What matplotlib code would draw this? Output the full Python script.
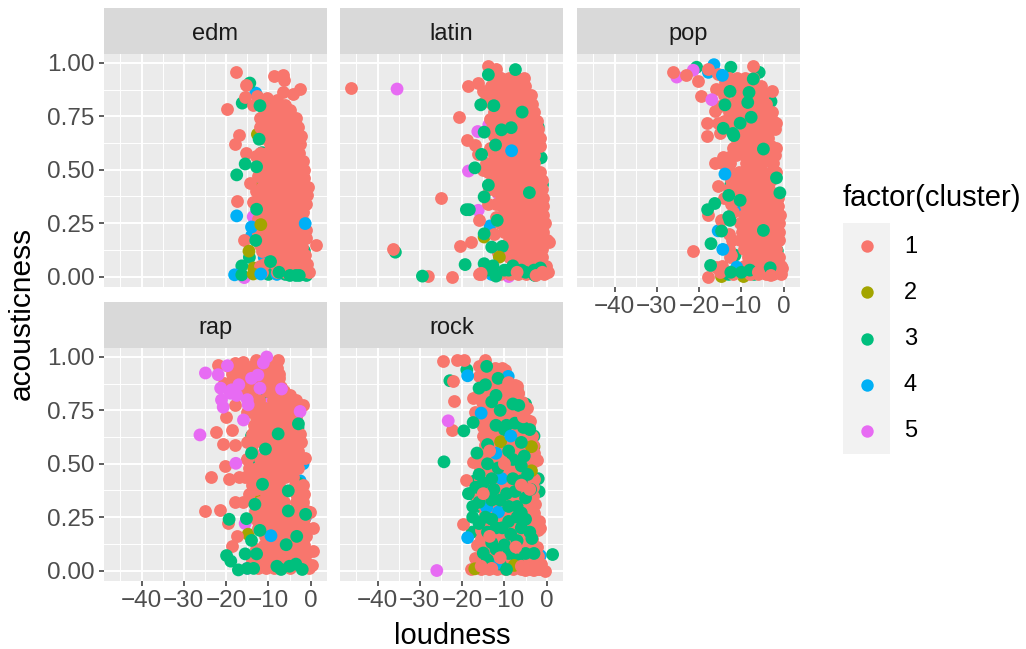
import matplotlib
matplotlib.use("Agg")
import matplotlib.pyplot as plt

plt.rcParams['font.family'] = ['Liberation Sans', 'DejaVu Sans']

colors = {1: "#F8766D", 2: "#A3A500", 3: "#00BF7D", 4: "#00B0F6", 5: "#E76BF3"}
genres = ["edm", "latin", "pop", "rap", "rock"]
x_ticks = [-40, -30, -20, -10, 0]
y_ticks = [0, 0.25, 0.5, 0.75, 1]
y_labels = ["0.00", "0.25", "0.50", "0.75", "1.00"]
clusters = [1, 2, 3, 4, 5]

# points are (loudness, acousticness, cluster)
edm_under = [(-13, .859, 4), (-14.4, .906, 3), (-16.2, .812, 3), (-12.6, .666, 2), (-8.5, .66, 4), (-10, .72, 3),
             (-12.8, .42, 2), (-13.6, .28, 5), (-14, .19, 4), (-15.7, -.005, 5), (-14.5, .09, 3), (-11, .09, 4),
             (-9, .05, 3), (-7, .08, 3), (-1.5, .12, 3), (-2.5, .36, 3), (-9, .46, 3), (-11.5, .46, 4), (-11.5, .58, 3),
             (-11, .79, 5), (-13.5, .04, 2), (-10, .01, 3), (-8, .01, 4), (-6, .01, 3), (-1, .005, 3), (-3, .01, 3),
             (-12, .3, 3), (-6.2, .57, 5)]
edm_salmon = [(-17.6, .958), (-8.6, .937), (-6.6, .945), (-6.2, .92), (-15.2, .898), (-2.5, .88), (-4.3, .854), (-6.6, .862),
              (-15.5, .839), (-12.8, .843), (-19.7, .784), (-13.6, .804), (-10.4, .835), (-8, .828), (-6.1, .804), (-9, .79),
              (-17, .665), (-17.9, .62), (-15.2, .58), (-13, .565), (-14.4, .439), (-17.4, .353), (-13.7, .348),
              (-15.8, .169), (1.2, .15), (-12, .15), (-12, .05), (-11.5, .65), (-12, .58), (-12.5, .47), (-13, .4), (-12.5, .33),
              (-12.5, .27), (-12.5, .2), (-11.5, .12), (-11, .06), (-12, .74), (-12, .7)]
# solid core of each blob, row by row: (acousticness, [loudness, ...])
edm_fill = [(.78, [-11, -9.2, -7.1, -5]), (.74, [-10.8, -8.8, -6.9, -5, -3.4]), (.70, [-10.4, -8.5, -6.6, -4.7, -2.9]),
            (.66, [-9.8, -7.9, -6, -4.2, -2.4]), (.62, [-9.6, -7.6, -5.8, -3.9, -2.5]), (.58, [-10.3, -8.4, -6.5, -4.6, -2.7]),
            (.54, [-11, -9, -7.1, -5.2, -3.3, -1.9]), (.50, [-11.4, -9.5, -7.6, -5.7, -3.8, -1.6]), (.46, [-10.8, -8.9, -7, -5.1, -3.2, -1.5]),
            (.42, [-11.5, -9.6, -7.7, -5.8, -3.9, -2, -.7]), (.38, [-11.9, -10, -8.1, -6.2, -4.3, -2.4, -.9]), (.34, [-11.8, -9.9, -8, -6.1, -4.2, -2.3, -1]),
            (.30, [-11.3, -9.4, -7.5, -5.6, -3.7, -1.8]), (.26, [-11.4, -9.5, -7.6, -5.7, -3.8, -1.9]), (.22, [-10.9, -9, -7.1, -5.2, -3.3, -1.2]),
            (.18, [-10.8, -8.9, -7, -5.1, -3.2, -1.1]), (.14, [-9.7, -7.8, -5.9, -4, -2.1]), (.10, [-8.8, -6.6, -4.9, -3, -1.4]),
            (.06, [-8.5, -5.8, -4.2, -2.4, -.8]), (.02, [-11.5, -8, -6, -4, -2, -.3])]
edm_top = [(-12, .80, 3), (-12.2, .643, 3), (-15.5, .527, 3), (-17.5, .476, 3), (-12.8, .514, 3), (-12.8, .315, 3), (-17.5, .284, 4),
           (-14, .232, 4), (-1.3, .248, 4), (-13, .169, 3), (-14.6, .119, 2), (-11.8, .243, 2), (-16.3, .05, 3), (-18, .008, 4),
           (-16.3, .008, 3), (-13.6, .012, 2), (-11.8, .012, 4), (-4.9, .005, 3), (-3.5, .005, 3), (-2.7, .005, 3), (-7.5, .02, 3), (-9.5, .07, 3)]

latin_under = [(-35.8, .114, 3), (-28, 0, 1), (-16.2, .31, 5), (-18.5, .494, 5), (-16.3, .679, 5), (-13.7, .71, 5), (-11.4, .934, 5),
               (-11.4, .386, 5), (-14.8, .185, 2), (-13.4, .237, 4), (-11.7, .549, 2), (-1.3, .556, 3), (-1, .43, 3), (-1, .28, 3),
               (-13, .01, 4), (-9, 0, 5), (-2, .7, 3), (-1.5, .32, 5), (-6, .72, 3), (-8, .6, 3), (-7, .17, 4), (-3.5, .2, 3)]
latin_salmon = [(-46.4, .881), (-36.4, .128), (-20.8, .749), (-24.9, .368), (-22.5, 0), (-20.6, .144), (-17.8, .161), (-15.9, .263),
                (-18.7, .893), (-16.2, .906), (-13.8, .984), (-18.9, .64), (-17, .616), (-16.2, .574), (-13.3, .738), (-13.7, .408),
                (-12, .97), (-14, .34), (-16, .01), (.5, .16), (.3, .02), (-15, .5), (-13, .7), (-12.5, .66), (-14.5, .82), (-15, .87),
                (-13.5, .6), (-12.5, .58), (-13, .45), (-12, .4), (-12, .34), (-12, .28), (-12.5, .2), (-11.5, .11), (-12, .02)]
latin_fill = [(.93, [-12.8, -10.9, -9, -7.1, -5.4]), (.89, [-13.2, -11.3, -9.4, -7.5, -5.1]), (.85, [-13.4, -11.5, -9.6, -7.7, -5.8, -3.6]),
              (.81, [-13, -11.1, -9.2, -7.3, -5.4, -3.5]), (.77, [-12.4, -10.5, -8.6, -6.7, -4.8, -2.9]), (.73, [-11.6, -9.7, -7.8, -5.9, -4, -2.4]),
              (.69, [-11.5, -9.6, -7.7, -5.8, -3.9, -2]), (.65, [-11, -9.1, -7.2, -5.3, -3.4, -1.5]), (.61, [-11.9, -10, -8.1, -6.2, -4.3, -2.4, -1.5]),
              (.57, [-12.4, -10.5, -8.6, -6.7, -4.8, -2.9]), (.53, [-14.3, -12.4, -10.5, -8.6, -6.7, -4.8, -2.9]), (.49, [-14, -12.1, -10.2, -8.3, -6.4, -4.5, -2.6, -1.5]),
              (.45, [-12, -10.1, -8.2, -6.3, -4.4, -2.5, -1]), (.41, [-10, -8.1, -6.2, -4.3, -2.4, -1]), (.37, [-10.5, -8.6, -6.7, -4.8, -2.9, -.9]),
              (.33, [-10.6, -8.7, -6.8, -4.9, -3, -.9]), (.29, [-10.4, -8.5, -6.6, -4.7, -2.8, -.9]), (.25, [-11, -9.1, -7.2, -5.3, -3.4, -1.5, -.5]),
              (.21, [-10, -8.1, -6.2, -4.3, -2.4, -.9]), (.17, [-9, -7.1, -5.2, -3.3, -1.4, 0]), (.13, [-8.8, -6.9, -5, -3.1, -1.2]),
              (.09, [-9, -7.1, -5.2, -3.3, -1]), (.05, [-14.4, -7.5, -5.6, -3.7, -1.8, -.2]), (.01, [-15.5, -11, -8.6, -6.7, -4.8, -2.9, -.7])]
latin_top = [(-35.4, .878, 5), (-29.4, .002, 3), (-19.3, .056, 3), (-18.3, .313, 3), (-19, .313, 3), (-17, .509, 3), (-13.8, .945, 3),
             (-7.4, .969, 3), (-15.4, .572, 3), (-14.8, .676, 3), (-15.6, .804, 3), (-10.7, .687, 3), (-8.4, .697, 3), (-12.1, .616, 3),
             (-8.3, .589, 4), (-4.1, .393, 3), (-13.8, .428, 3), (-14.8, .373, 3), (-11.7, .263, 3), (-13, .138, 3), (-10.5, .141, 3),
             (-14.8, .2, 3), (-11.2, .091, 2), (-14.8, .06, 3), (-12, .002, 3), (-2.8, .005, 3), (-6, .03, 3), (-8, .05, 3),
             (-12.7, .05, 3), (-9, .03, 3), (-12.5, .8, 3), (-5.8, .77, 3), (-10, .03, 3), (-14, .03, 3), (-3, .03, 3), (-5, .02, 3),
             (-1.5, .04, 3), (-2.5, .005, 1), (-1, .02, 1), (-15.5, .015, 1), (-7, .02, 1)]

pop_under = [(-25.3, .934, 5), (-20.6, .98, 3), (-21.4, .966, 5), (-17.8, .956, 4), (-16.5, .992, 4), (-12.5, .98, 3), (-5.8, .956, 3),
             (-14.7, 0, 2), (-9.5, 0, 2), (-11, .02, 3), (-7, .01, 3), (-13, .01, 3), (-15.5, .214, 4), (-5, .66, 3), (-1.5, .12, 3),
             (-11, .32, 4), (-3, .82, 3), (-5, .62, 3), (-10.5, .59, 3), (-12.5, .43, 3), (-11.5, .1, 3)]
pop_salmon = [(-26.1, .958), (-23, .945), (-20.2, .914), (-19.6, .846), (-18, .97), (-15.5, .95), (-14, .91), (-7.2, .984),
              (-16, .88), (-2.8, .867), (-16.3, .776), (-3.2, .765), (-18.2, .721), (-15.5, .72), (-18.1, .66), (-15, .67),
              (-1.7, .718), (-1.7, .603), (-16.3, .533), (-14.3, .561), (-15.5, .425), (-17.8, .287), (-14.9, .266),
              (-21.5, .119), (-16.1, .044), (-17.9, 0), (-.5, .04), (-12, .6), (-13, .56), (-13, .5), (-12.5, .34), (-12, .3),
              (-13, .2), (-12.5, .1), (-15, .02), (-11.5, .74), (-15, .8)]
pop_fill = [(.93, [-13, -11, -9.1, -7.2]), (.89, [-13.4, -11.1, -9.2, -7, -5.4]), (.85, [-14.2, -11, -9.1, -6.7, -4.9]), (.81, [-12.4, -10.3, -7.9, -5.9, -4.2]),
            (.77, [-12.9, -11, -9.2, -6.2, -4.6, -2.8]), (.73, [-14.1, -12.2, -8.5, -6.6, -4.6, -2.5]), (.69, [-13, -9.3, -7.4, -5.5, -3.6, -2]), (.65, [-11.2, -9.3, -7.4, -5.5, -3.6]),
            (.61, [-10.6, -8.7, -6.8, -4.9, -3]), (.57, [-11.3, -9.4, -7.5, -5.6, -3.7, -2]), (.53, [-14.6, -12.6, -8.9, -7, -5.1, -2.6]), (.49, [-10.6, -8.7, -6.8, -4.9, -3, -1.9]),
            (.45, [-12.4, -10.6, -8.7, -6.8, -4.9, -3]), (.41, [-13, -11, -9.1, -7.2, -5.3, -3.4]), (.37, [-14.1, -12.2, -8.4, -6.5, -4.6, -2.7, -1.4]),
            (.33, [-8.8, -6.9, -5, -3.1, -1.4]), (.29, [-9.4, -7.5, -5.6, -3.7, -1.8, -.8]), (.25, [-10.4, -8.5, -6.6, -4.7, -2.8, -1]), (.21, [-9.9, -8, -6.1, -4.2, -2.3, -1]),
            (.17, [-12.3, -10.4, -8.5, -6.6, -4.7, -2.8, -1.2]), (.13, [-13, -9.4, -7.5, -5.6, -3.7, -1.8]), (.09, [-12.6, -8.5, -6.6, -4.7, -2.8, -1.2]),
            (.05, [-14.5, -9.5, -7.6, -5.7, -3.8, -1.9, -.6]), (.01, [-12, -8, -6, -4.2, -2.6, -.7])]
pop_top = [(-17, .828, 5), (-14.5, .942, 4), (-7.2, .925, 3), (-12.7, .867, 3), (-8.2, .862, 3), (-13.9, .804, 3), (-8.5, .815, 3), (-14.3, .694, 3),
           (-10.3, .718, 3), (-12, .67, 3), (-7.7, .746, 3), (-4.8, .597, 3), (-13.9, .48, 4), (-.9, .392, 3), (-1.7, .462, 3), (-10.3, .357, 3),
           (-18, .313, 3), (-16.3, .342, 3), (-12.7, .263, 3), (-14.7, .213, 3), (-4.8, .216, 3), (-17.2, .154, 3), (-14.4, .127, 4), (-17.3, .052, 3),
           (-3.2, .041, 3), (-11.1, .044, 4), (-10, .02, 3), (-13, .38, 3), (-11.8, .66, 3), (-13, .28, 3), (-12.5, .02, 3), (-8, .03, 3), (-3, .005, 1), (-6, .02, 1)]

rap_under = [(-6.9, .839, 3), (-11, .8, 3), (-14, .63, 3), (-11, .54, 5), (-14, .5, 3), (-1.8, .5, 4), (-2.5, .42, 4), (-3, .41, 3),
             (-1.2, .25, 4), (-15.5, .22, 5), (-13.2, .345, 2), (-14.8, .17, 2), (-2, .16, 5), (-15, .01, 5), (-3, .62, 4), (-3, .67, 3), (-10, .78, 5)]
rap_salmon = [(-21.9, .964), (-18, .97), (-16, .975), (-13, .985), (-7.7, .985), (-8, .95), (-17, .91), (-20.5, .88), (-15, .94), (-11, .94), (-7.5, .9),
              (-16, .85), (-13.5, .85), (-9.5, .87), (-7, .86), (-17.9, .776), (-5, .82), (-3.5, .8), (-1.7, .776), (-20.1, .721),
              (-18.5, .66), (-22.3, .65), (-20.7, .592), (-18, .59), (-1.3, .525), (-20.3, .489), (-23.6, .439), (-19.3, .428), (-17, .44),
              (-18, .32), (-16, .32), (-25, .279), (-21.5, .285), (-.2, .274), (-19.5, .223), (.6, .199), (-17.5, .16), (-18.5, .113), (.6, .091), (.2, .024), (-15.5, .44),
              (-15, .6), (-15, .52), (-14, .44), (-13, .38), (-12.5, .2), (-13, .1), (-14, .05), (-18.5, .95), (-15, .88), (-13, .78), (-15, .74)]
rap_fill = [(.96, [-19.5, -17.4, -15.5, -13.6, -11.7, -9.6]), (.92, [-18.6, -16.2, -14.4, -10.8, -8.6, -7.5]), (.88, [-18.9, -15.6, -13, -11, -9.2]), (.84, [-15.2, -10.4, -8.6, -6.4]),
            (.80, [-13.8, -12.2, -9, -6.9, -4.6]), (.76, [-12.6, -10.7, -8.8, -6.9, -5, -3.4]), (.72, [-12.9, -11, -9.1, -7.2, -5.3, -3.4]), (.68, [-13.5, -11.6, -9.7, -7.8, -5.9, -4]),
            (.64, [-13.9, -12, -10.1, -8.2, -6.3, -4.4, -2.5]), (.60, [-13.4, -11.5, -9.6, -7.7, -5.8, -3.9, -2.3]), (.56, [-13.9, -8.7, -6.8, -4.9, -3]), (.52, [-15, -12, -10.1, -8.2, -6.3, -4.4, -2.5]),
            (.48, [-14.5, -12.6, -10.7, -8.8, -6.9, -5, -3.1]), (.44, [-13.6, -11.7, -9.8, -7.9, -6, -4.1]), (.40, [-14, -9.4, -7.5, -3.7, -1.9]), (.36, [-14.5, -10.6, -8.7, -6.8, -3.4, -1.6]),
            (.32, [-12, -10.1, -8.2, -6.3, -3.5, -1.8]), (.28, [-13.2, -11.3, -9.4, -7.5, -3.3, -.9]), (.24, [-12.9, -11, -9.1, -7.2, -5.3, -3.4, -1.5]), (.20, [-10.4, -8.5, -6.6, -4.7, -2.8, -.8]),
            (.16, [-10.9, -7.2, -5.2, -1.2]), (.12, [-11, -9.1, -7.2, -3.4, -1.5]), (.08, [-10.4, -8.5, -6.6, -4.7, -2.8, -.9]), (.04, [-11.4, -9.5, -7.6, -5.7, -3.8, -1]), (.01, [-12.5, -10.6, -8.7, -5, -.4])]
rap_top = [(-24.9, .925, 5), (-26.2, .635, 5), (-21.9, .917, 5), (-21.3, .854, 5), (-21.1, .799, 5), (-20.7, .765, 5), (-18.7, .846, 5), (-19.7, .959, 5), (-17.5, .82, 5), (-14, .9, 5),
           (-12.5, .915, 5), (-10.4, 1.0, 5), (-11.2, .972, 5), (-12, .854, 5), (-6.9, .85, 5), (-14.8, .776, 5), (-15.9, .705, 5), (-17.7, .502, 5), (-19, .83, 5), (-17, .87, 5), (-15, .8, 5),
           (-2.5, .745, 5), (-7.7, .64, 3), (-2.9, .687, 3), (-10.7, .569, 3), (-5.3, .373, 3), (-11.4, .404, 3), (-5.3, .279, 3), (-1.2, .263, 3), (-15.2, .243, 3),
           (-19.3, .24, 3), (-13.2, .31, 3), (-9.4, .163, 4), (-12, .188, 3), (-14, .141, 3), (-5.8, .121, 3), (-3.3, .16, 3), (-15.5, .078, 3), (-12.8, .078, 3),
           (-19.9, .07, 3), (-18.9, .044, 3), (-17.1, .003, 3), (-15, .01, 3), (-7, .005, 3), (-2, .005, 3), (-3.5, .03, 3), (-13.5, .01, 3), (-14, .55, 3), (-8, .02, 3), (-5, .02, 3)]

rock_under = [(-18.9, .94, 3), (-22.9, .889, 3), (-7, .85, 3), (-5, .78, 3), (-3, .63, 3), (-2, .43, 3), (-1.8, .37, 3), (-17, .42, 3), (-18, .36, 3), (-16, .3, 3),
              (-3, .58, 2), (-4.5, .03, 3), (-1.5, .07, 4), (-14, .01, 3), (-9, .01, 4), (-10, .02, 3), (-9, .88, 4), (-13, .74, 5), (-15, .01, 2), (-2, .2, 3), (-17.6, .18, 3)]
rock_salmon = [(-24.5, .981), (-21.3, .987), (-19.5, .987), (-22.1, .886), (-22, .795), (-22.5, .658), (-19.8, .219), (-19.2, .426), (-14.6, .987), (-16, .96),
               (-9.9, .937), (-7.1, .862), (-6.9, .831), (-17.5, .81), (-17, .74), (-4.7, .76), (-17.5, .51), (-2.4, .517), (-1.5, .2), (-17.8, .005), (-.5, .0), (-2, .005),
               (-16, .5), (-12, .42), (-16.5, .12), (-17, .06), (-15.5, .7), (-13.5, .93), (-12, .76), (-4, .7)]
rock_fill = [(.95, [-14, -12.2, -10.6]), (.91, [-16, -14, -12, -10]), (.87, [-15, -13, -11, -9, -7.5]), (.83, [-16, -14, -12, -10, -8, -6.8]),
             (.79, [-15.2, -13.3, -11.4, -9.5, -7.6, -5.8]), (.75, [-14.8, -12.9, -11, -9.1, -7.2, -5.3]), (.71, [-14.4, -12.5, -10.6, -8.7, -6.8, -4.9]),
             (.67, [-15, -13, -11, -9.2, -7.3, -5.4, -4.2]), (.63, [-15, -13, -11, -9, -7, -5, -3.5]), (.59, [-14.5, -12.5, -10.6, -8.7, -6.8, -4.9, -3.2]),
             (.55, [-15.5, -13.6, -11.7, -9.8, -7.9, -6, -4.1, -3]), (.51, [-15, -13, -11, -9, -7, -5, -3.2]), (.47, [-15.8, -13.9, -12, -10.1, -8.2, -6.3, -4.4]),
             (.43, [-15.8, -13.9, -12, -10.1, -8.2, -6.3, -4.4, -3]), (.39, [-16.5, -14.6, -12.7, -10.8, -8.9, -7, -5.1, -3.2]), (.35, [-16.5, -14.6, -12.7, -10.8, -8.9, -7, -5.1, -3.2]),
             (.31, [-15.6, -13.7, -11.8, -9.9, -8, -6.1, -4.2, -2.7]), (.27, [-14.5, -12.6, -10.7, -8.8, -6.9, -5, -3.1]), (.23, [-15, -13, -11, -9, -7, -5, -3, -1.9]),
             (.19, [-15.5, -13.5, -11.5, -9.5, -7.5, -5.5, -3.5, -2]), (.15, [-15.5, -13.5, -11.5, -9.5, -7.5, -5.5, -3.5]), (.11, [-15.4, -13.5, -11.6, -9.7, -5.9, -4, -2.4]),
             (.07, [-15.4, -13.5, -11.6, -9.7, -7.8, -5.9, -4, -2.1]), (.03, [-16, -14.1, -10.3, -8.4, -6.5, -4.6, -2.7, -1.4]), (.005, [-15.5, -13.6, -11.7, -9.8, -7.9, -6, -4.1, -3.2, -1.5])]
rock_top = [(-18.7, .912, 4), (-23.3, .701, 5), (-19.6, .654, 3), (-24.3, .509, 3), (-26, 0, 5), (1.4, .075, 3), (-18.7, .154, 4), (-14.2, .956, 3), (-9.1, .909, 4),
            (-6.6, .773, 3), (-15.5, .737, 4), (-17.4, .693, 3), (-16, .854, 3), (-13, .79, 3), (-12, .68, 3), (-10, .66, 3), (-7.5, .69, 3), (-5.5, .67, 3), (-9.5, .68, 3), (-10.9, .603, 2),
            (-12, .549, 4), (-3.6, .58, 2), (-3.6, .467, 2), (-5.3, .536, 3), (-8.5, .63, 4), (-14.2, .295, 4), (-11.4, .274, 4), (-10.7, .431, 4), (-16.5, .55, 3), (-14, .5, 3),
            (-8, .43, 3), (-6, .49, 3), (-18.5, .36, 3), (-16, .32, 3), (-13, .33, 3), (-7.5, .37, 3), (-5, .34, 3), (-17.5, .25, 3), (-14.5, .25, 3), (-10.5, .2, 3), (-8.5, .17, 3),
            (-12, .2, 3), (-6, .2, 3), (-15, .082, 3), (-9, .08, 3), (-5, .08, 3), (-7, .05, 3), (-11, .03, 3), (-7.7, .024, 2), (-12, .031, 4), (-17, .008, 2), (-13, .43, 3),
            (-14.5, .87, 3), (-11.5, .48, 3), (-9, .56, 3), (-7, .3, 3), (-12.5, .38, 3), (-9.5, .36, 3), (-16.8, .39, 3), (-15, .41, 3), (-6, .42, 3), (-3.8, .38, 3), (-5, .24, 3), (-13, .13, 3),
            (-7, .14, 3), (-4, .18, 3), (-16, .22, 3), (-12, .1, 3), (-3.5, .15, 3), (-9.5, .005, 3), (-11, .75, 3), (-8, .78, 3), (-9, .3, 3), (-11, .33, 3), (-14, .18, 3), (-13, .24, 3),
            (-9, .23, 3), (-6, .27, 3), (-14, .05, 3), (-10, .12, 3), (-3, .08, 3), (-16, .45, 3), (-17.5, .3, 3), (-14, .59, 3), (-8, .52, 3), (-4.5, .45, 3), (-11.5, .9, 3), (-12, .82, 3),
            (-6, .6, 3), (-4, .66, 3), (-7, .25, 3), (-10, .5, 1), (-6, .4, 1), (-4, .38, 1), (-11, .06, 1), (-7.3, .11, 1), (-13.5, .16, 1), (-3, .0, 1), (-5, .0, 1), (-6, .02, 1), (-2, .01, 1),
            (-15.5, .02, 1), (-13, .01, 1), (-5.5, .72, 1), (-9, .88, 1), (-13.5, .56, 1), (-15, .36, 1)]

layers = {"edm": (edm_under, edm_salmon, edm_fill, edm_top), "latin": (latin_under, latin_salmon, latin_fill, latin_top),
          "pop": (pop_under, pop_salmon, pop_fill, pop_top), "rap": (rap_under, rap_salmon, rap_fill, rap_top),
          "rock": (rock_under, rock_salmon, rock_fill, rock_top)}

W, H = 1026, 649
panel_left = {"edm": 104, "latin": 340, "pop": 577, "rap": 104, "rock": 340}
panel_top = {"edm": 54, "latin": 54, "pop": 54, "rap": 348, "rock": 348}
panel_w, panel_h, strip_h = 223, 233, 46
dot = 85

fig = plt.figure(figsize=(W / 100, H / 100), dpi=100)

for g in genres:
    ax = fig.add_axes([panel_left[g] / W, 1 - (panel_top[g] + panel_h) / H, panel_w / W, panel_h / H])
    ax.set_facecolor("#EBEBEB")
    ax.set_xlim(-48.9, 3.86)
    ax.set_ylim(-0.049, 1.042)
    for s in ax.spines.values():
        s.set_visible(False)
    ax.set_axisbelow(True)
    ax.set_xticks(x_ticks)
    ax.set_yticks(y_ticks)
    ax.set_yticklabels(y_labels)
    ax.set_xticks([-45, -35, -25, -15, -5], minor=True)
    ax.set_yticks([.125, .375, .625, .875], minor=True)
    ax.grid(True, which="major", color="white", lw=1.4)
    ax.grid(True, which="minor", color="white", lw=0.7)
    ax.tick_params(which="minor", length=0)
    ax.tick_params(which="major", length=3.6, width=1.1, color="#333333", labelcolor="#4D4D4D",
                   labelsize=17.5, pad=3)
    ax.tick_params(axis="x", labelbottom=g in ["pop", "rap", "rock"], bottom=g in ["pop", "rap", "rock"])
    ax.tick_params(axis="y", labelleft=g in ["edm", "rap"], left=g in ["edm", "rap"])

    under, salmon, fill, top = layers[g]
    fill_x = [x for row in fill for x in row[1]]
    fill_y = [row[0] for row in fill for x in row[1]]
    ax.scatter([p[0] for p in under], [p[1] for p in under], c=[colors[p[2]] for p in under],
               s=dot, linewidths=0, clip_on=False, zorder=3)
    ax.scatter([p[0] for p in salmon], [p[1] for p in salmon], c=colors[1],
               s=dot, linewidths=0, clip_on=False, zorder=4)
    ax.scatter(fill_x, fill_y, c=colors[1], s=dot, linewidths=0, clip_on=False, zorder=4)
    ax.scatter([p[0] for p in top], [p[1] for p in top], c=[colors[p[2]] for p in top],
               s=dot, linewidths=0, clip_on=False, zorder=5)

    strip = fig.add_axes([panel_left[g] / W, 1 - panel_top[g] / H, panel_w / W, strip_h / H])
    strip.set_facecolor("#D9D9D9")
    strip.set_xticks([])
    strip.set_yticks([])
    for s in strip.spines.values():
        s.set_visible(False)
    strip.text(0.5, 0.44, g, ha="center", va="center", fontsize=17, color="#1A1A1A", transform=strip.transAxes)

fig.text(452 / W, 1 - 636 / H, "loudness", ha="center", va="center", fontsize=21)
fig.text(22 / W, 1 - 313 / H, "acousticness", ha="center", va="center", rotation=90, fontsize=21.5)

# legend
lg = fig.add_axes([843 / W, 1 - 454 / H, 47 / W, 231 / H])
lg.set_facecolor("#F2F2F2")
lg.set_xlim(0, 1)
lg.set_ylim(5, 0)
lg.set_xticks([])
lg.set_yticks([])
for s in lg.spines.values():
    s.set_visible(False)
for i, c in enumerate(clusters):
    lg.scatter([0.5], [i + 0.5], c=colors[c], s=80, linewidths=0)
    fig.text(904 / W, 1 - (247 + i * 46.1) / H, str(c), ha="left", va="center", fontsize=17)
fig.text(843 / W, 1 - 198.5 / H, "factor(cluster)", ha="left", va="center", fontsize=21)

fig.savefig("out.png", dpi=100)
